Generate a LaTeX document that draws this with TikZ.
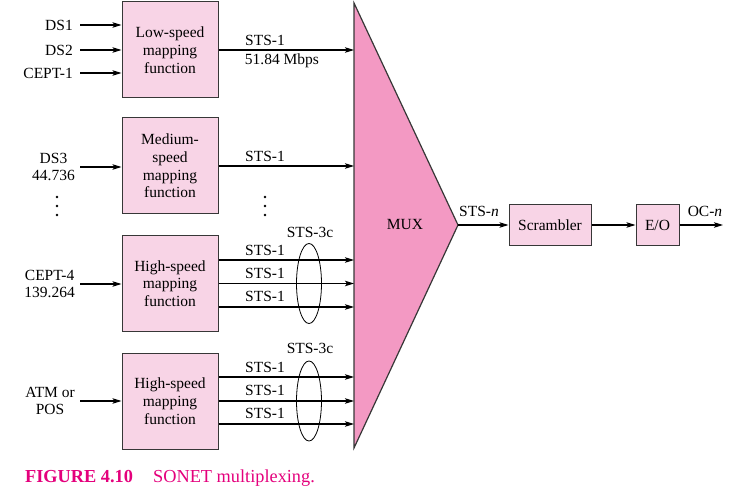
\documentclass[tikz,border=0pt]{standalone}
\usepackage{fontspec}
\setmainfont{Liberation Serif}
\usetikzlibrary{arrows.meta}
\definecolor{boxpink}{RGB}{248,212,230}
\definecolor{muxpink}{RGB}{243,153,195}
\definecolor{capmag}{RGB}{228,0,124}
\definecolor{edge}{RGB}{55,55,55}
\tikzset{
  fbox/.style={draw=edge,line width=1pt,fill=boxpink,align=center,inner sep=0pt,
    minimum width=96pt,minimum height=96pt,font=\fontsize{15.5}{17.7}\selectfont},
  sbox/.style={draw=edge,line width=1pt,fill=boxpink,inner sep=0pt,
    minimum height=40pt,font=\fontsize{15.5}{17.7}\selectfont},
  lbl/.style={inner sep=0pt,align=center,font=\fontsize{15.5}{17.7}\selectfont},
  caption/.style={inner sep=0pt,anchor=base west,text=capmag},
  arr/.style={line width=1.2pt,-{Stealth[length=9pt,width=5.5pt,inset=2pt]}},
  dot/.style={circle,fill=black,inner sep=0pt,minimum size=2.6pt}
}
\begin{document}
\begin{tikzpicture}[x=1pt,y=-1pt]
\useasboundingbox (0,0) rectangle (737,500);
% MUX
\coordinate (muxTL) at (354,3);
\coordinate (muxBL) at (354,448);
\coordinate (muxTip) at (458,225);
\draw[edge,line width=1.2pt,fill=muxpink,line join=miter] (muxTL) -- (muxTip) -- (muxBL) -- cycle;
\node[lbl] (mux) at (405,225) {MUX};
% boxes
\node[fbox] (low) at (170,50) {Low-speed\\mapping\\function};
\node[fbox] (med) at (170,166) {Medium-\\speed\\mapping\\function};
\node[fbox,minimum height=95pt] (high1) at (170,283.5) {High-speed\\mapping\\function};
\node[fbox] (high2) at (170,401) {High-speed\\mapping\\function};
\node[sbox,minimum width=82pt] (scr) at (550,225) {Scrambler};
\node[sbox,minimum width=43pt] (eo) at (657.5,225) {E/O};
% input labels
\node[lbl,anchor=east] (ds1) at (73,25) {DS1};
\node[lbl,anchor=east] (ds2) at (73,50) {DS2};
\node[lbl,anchor=east] (cept1) at (73,73) {CEPT-1};
\node[lbl,anchor=east] (ds3) at (75,167) {DS3\\44.736};
\node[lbl,anchor=east] (cept4) at (75,284) {CEPT-4\\139.264};
\node[lbl,anchor=east] (atm) at (75,401) {ATM or\\POS};
% input arrows
\draw[arr] (ds1.east) ++(7,0) -- (ds1.east -| low.west);
\draw[arr] (ds2.east) ++(7,0) -- (ds2.east -| low.west);
\draw[arr] (cept1.east) ++(7,0) -- (cept1.east -| low.west);
\draw[arr] (ds3.east) ++(5,0) -- (ds3.east -| med.west);
\draw[arr] (cept4.east) ++(5,0) -- (cept4.east -| high1.west);
\draw[arr] (atm.east) ++(5,0) -- (atm.east -| high2.west);
% left dots
\node[dot] (ld1) at (57,197) {};
\node[dot] (ld2) at (57,206) {};
\node[dot] (ld3) at (57,215) {};
% outputs low / medium
\draw[arr] (low.east) -- (low.east -| muxTL);
\node[lbl,anchor=south] (l1) at (265,46) {STS-1};
\node[lbl,anchor=north] (l1b) at (282,54) {51.84 Mbps};
\draw[arr] (med.east) -- (med.east -| muxTL);
\node[lbl,anchor=south] (m1) at (265,162) {STS-1};
% mid dots
\node[dot] (md1) at (265,197) {};
\node[dot] (md2) at (265,206) {};
\node[dot] (md3) at (265,215) {};
% high1 outputs
\coordinate (h1a) at ([yshift=23.5pt]high1.east);
\coordinate (h1b) at (high1.east);
\coordinate (h1c) at ([yshift=-23.5pt]high1.east);
\draw[arr] (h1a) -- (h1a -| muxTL);
\draw[arr] (h1b) -- (h1b -| muxTL);
\draw[arr] (h1c) -- (h1c -| muxTL);
\node[lbl,anchor=south] (h1la) at (265,256) {STS-1};
\node[lbl,anchor=south] (h1lb) at (265,279) {STS-1};
\node[lbl,anchor=south] (h1lc) at (265,302) {STS-1};
\draw[line width=0.8pt] (309,283.5) ellipse [x radius=12.5pt, y radius=40pt];
\node[lbl] (s3a) at (310,232) {STS-3c};
% high2 outputs
\coordinate (h2a) at ([yshift=24pt]high2.east);
\coordinate (h2b) at (high2.east);
\coordinate (h2c) at ([yshift=-23pt]high2.east);
\draw[arr] (h2a) -- (h2a -| muxTL);
\draw[arr] (h2b) -- (h2b -| muxTL);
\draw[arr] (h2c) -- (h2c -| muxTL);
\node[lbl,anchor=south] (h2la) at (265,373) {STS-1};
\node[lbl,anchor=south] (h2lb) at (265,396) {STS-1};
\node[lbl,anchor=south] (h2lc) at (265,419) {STS-1};
\draw[line width=0.8pt] (309,401) ellipse [x radius=12.5pt, y radius=40pt];
\node[lbl] (s3b) at (310,348) {STS-3c};
% right chain
\draw[arr] (muxTip) -- (scr.west);
\node[lbl] (stsn) at (479,211) {STS-\textit{n}};
\draw[arr] (scr.east) -- (eo.west);
\coordinate (ocend) at (723,225);
\draw[arr] (eo.east) -- (ocend);
\node[lbl] (ocn) at (705,211) {OC-\textit{n}};
% caption
\node[caption,font=\fontsize{18.3}{20}\selectfont\bfseries] (capa) at (25,482) {FIGURE 4.10};
\node[caption,font=\fontsize{18.3}{20}\selectfont] (capb) at (153,482) {SONET multiplexing.};
\end{tikzpicture}
\end{document}
